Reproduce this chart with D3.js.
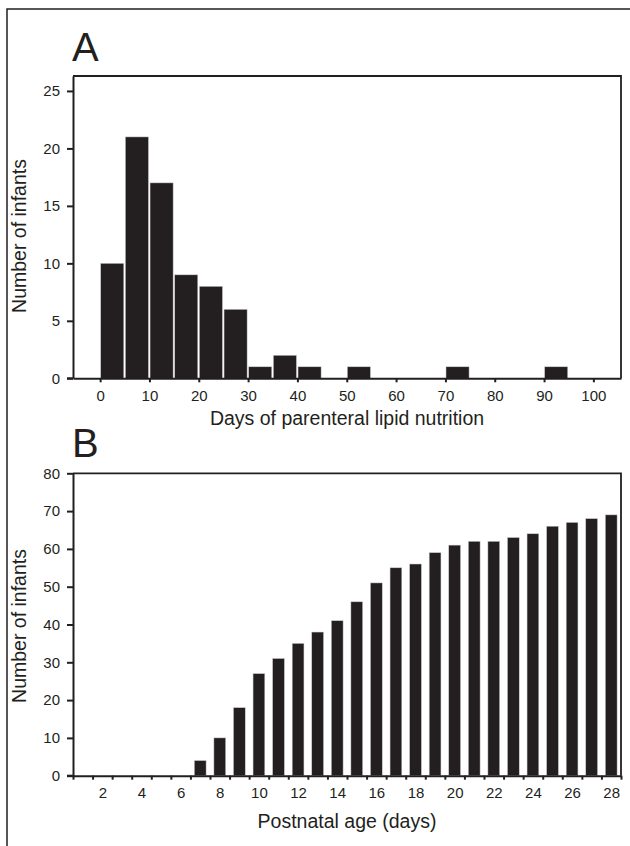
<!DOCTYPE html>
<html>
<head>
<meta charset="utf-8">
<script src="https://cdn.jsdelivr.net/npm/d3@7"></script>
<style>
  body { margin: 0; background: #fff; }
  text { font-family: "Liberation Sans", Arial, sans-serif; fill: #231f20; }
  .axis path, .axis line { stroke: #231f20; stroke-width: 2; }
  .axis text { font-size: 15px; fill: #231f20; }
</style>
</head>
<body>
<svg id="chart"></svg>
<script>
// panel A: histogram, bins of 5 days
const binStartsA = [0, 5, 10, 15, 20, 25, 30, 35, 40, 45, 50, 55, 60, 65, 70, 75, 80, 85, 90, 95];
const countsA = [10, 21, 17, 9, 8, 6, 1, 2, 1, 0, 1, 0, 0, 0, 1, 0, 0, 0, 1, 0];
const binWidthA = 5;
const xTicksA = [0, 10, 20, 30, 40, 50, 60, 70, 80, 90, 100];
const yTicksA = [0, 5, 10, 15, 20, 25];

// panel B: infants by postnatal age
const daysB = d3.range(1, 29);
const countsB = [0, 0, 0, 0, 0, 0, 4, 10, 18, 27, 31, 35, 38, 41, 46, 51, 55, 56, 59, 61, 62, 62, 63, 64, 66, 67, 68, 69];
const xLabelsB = [2, 4, 6, 8, 10, 12, 14, 16, 18, 20, 22, 24, 26, 28];
const yTicksB = [0, 10, 20, 30, 40, 50, 60, 70, 80];

const W = 630, H = 846;
const dark = "#231f20";

const svg = d3.select("#chart")
    .attr("width", W)
    .attr("height", H);

// outer frame (left + top only)
svg.append("path")
    .attr("d", `M7,${H} L7,9 L${W},9`)
    .attr("fill", "none")
    .attr("stroke", dark)
    .attr("stroke-width", 1.5);

const left = 73, right = 621;

// ---------- panel A ----------
const topA = 76, bottomA = 378.3;

const xA = d3.scaleLinear()
    .domain([-5.5, 105.6])
    .range([left, right]);

const yA = d3.scaleLinear()
    .domain([0, 26.3])
    .range([bottomA, topA]);

const gA = svg.append("g");

gA.selectAll("rect")
    .data(binStartsA.map((d, i) => ({x0: d, n: countsA[i]})).filter(d => d.n > 0))
    .enter()
    .append("rect")
    .attr("x", d => xA(d.x0) + 0.6)
    .attr("width", d => xA(d.x0 + binWidthA) - xA(d.x0) - 1.6)
    .attr("y", d => yA(d.n))
    .attr("height", d => yA(0) - yA(d.n))
    .attr("fill", dark)
    .attr("stroke", "#c8c8c8")
    .attr("stroke-width", 0.5);

gA.append("path")
    .attr("d", `M${left},${topA} L${right},${topA} L${right},${bottomA}`)
    .attr("fill", "none")
    .attr("stroke", dark)
    .attr("stroke-width", 1.8);

gA.append("g")
    .attr("class", "axis")
    .attr("transform", `translate(0,${bottomA})`)
    .call(d3.axisBottom(xA).tickValues(xTicksA).tickSize(4).tickPadding(8).tickSizeOuter(0));

gA.append("g")
    .attr("class", "axis")
    .attr("transform", `translate(${left},0)`)
    .call(d3.axisLeft(yA).tickValues(yTicksA).tickSize(6).tickPadding(7).tickSizeOuter(0));

// extend x axis line to y tick
gA.append("line")
    .attr("x1", left - 6).attr("x2", left)
    .attr("y1", bottomA).attr("y2", bottomA)
    .attr("stroke", dark).attr("stroke-width", 2);

gA.append("text")
    .attr("x", 72).attr("y", 61)
    .attr("font-size", "40px")
    .text("A");

gA.append("text")
    .attr("x", (left + right) / 2)
    .attr("y", 425)
    .attr("text-anchor", "middle")
    .attr("font-size", "19.5px")
    .text("Days of parenteral lipid nutrition");

gA.append("text")
    .attr("transform", "translate(25.5,236) rotate(-90)")
    .attr("text-anchor", "middle")
    .attr("font-size", "19.5px")
    .text("Number of infants");

// ---------- panel B ----------
const topB = 473.3, bottomB = 775.7;

const xB = d3.scaleBand()
    .domain(daysB)
    .range([left, right])
    .paddingInner(0.4)
    .paddingOuter(0.2);

const xLinB = d3.scaleLinear()
    .domain([0.5, 28.5])
    .range([left, right]);

const yB = d3.scaleLinear()
    .domain([0, 80])
    .range([bottomB, topB]);

const gB = svg.append("g");

gB.selectAll("rect")
    .data(daysB.map((d, i) => ({day: d, n: countsB[i]})).filter(d => d.n > 0))
    .enter()
    .append("rect")
    .attr("x", d => xB(d.day))
    .attr("width", xB.bandwidth())
    .attr("y", d => yB(d.n))
    .attr("height", d => yB(0) - yB(d.n))
    .attr("fill", dark)
    .attr("stroke", "#c8c8c8")
    .attr("stroke-width", 0.5);

gB.append("path")
    .attr("d", `M${left},${topB} L${right},${topB} L${right},${bottomB}`)
    .attr("fill", "none")
    .attr("stroke", dark)
    .attr("stroke-width", 1.8);

// tick marks at the day boundaries
gB.append("g")
    .attr("class", "axis")
    .attr("transform", `translate(0,${bottomB})`)
    .call(d3.axisBottom(xLinB).tickValues(d3.range(0.5, 29, 1)).tickFormat("").tickSize(4).tickSizeOuter(0));

// labels at even days
gB.append("g")
    .attr("class", "axis")
    .attr("transform", `translate(0,${bottomB})`)
    .call(d3.axisBottom(xLinB).tickValues(xLabelsB).tickSize(0).tickPadding(12).tickSizeOuter(0))
    .call(g => g.select(".domain").remove());

gB.append("g")
    .attr("class", "axis")
    .attr("transform", `translate(${left},0)`)
    .call(d3.axisLeft(yB).tickValues(yTicksB).tickSize(6).tickPadding(7).tickSizeOuter(0));

gB.append("line")
    .attr("x1", left - 6).attr("x2", left)
    .attr("y1", bottomB).attr("y2", bottomB)
    .attr("stroke", dark).attr("stroke-width", 2);

gB.append("text")
    .attr("x", 72).attr("y", 457)
    .attr("font-size", "40px")
    .text("B");

gB.append("text")
    .attr("x", (left + right) / 2)
    .attr("y", 828)
    .attr("text-anchor", "middle")
    .attr("font-size", "19.5px")
    .text("Postnatal age (days)");

gB.append("text")
    .attr("transform", "translate(25.5,626) rotate(-90)")
    .attr("text-anchor", "middle")
    .attr("font-size", "19.5px")
    .text("Number of infants");
</script>
</body>
</html>
